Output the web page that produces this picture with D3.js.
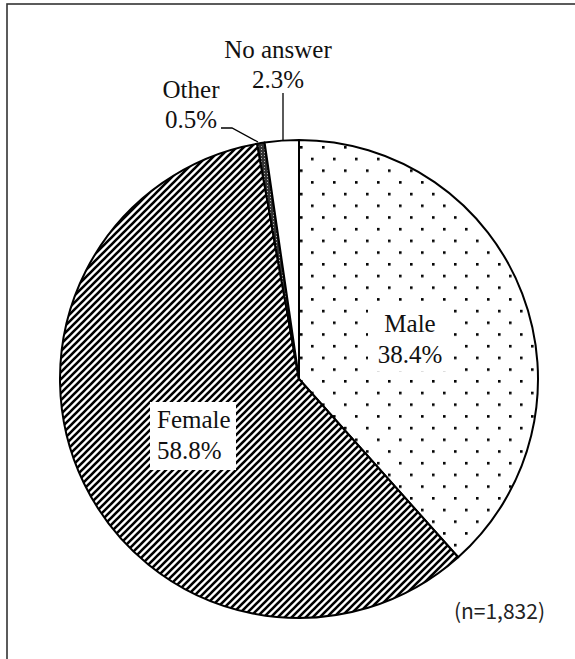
<!DOCTYPE html>
<meta charset="utf-8">
<script src="https://cdn.jsdelivr.net/npm/d3@7"></script>
<style>
  body { margin: 0; background: #fff; }
</style>
<body>
<script>

// data
var categories = ["Male", "Female", "Other", "No answer"];
var shares = [38.4, 58.8, 0.5, 2.3];
var patterns = ["dots", "hatch", "grey", "none"];
var totalN = "1,832";

var width = 575, height = 659;
var cx = 299, cy = 379, radius = 239;
var serif = "'Liberation Serif', 'Times New Roman', Times, 'DejaVu Serif', serif";

var svg = d3.select("body").append("svg")
    .attr("width", width)
    .attr("height", height);

// --- fill patterns
var defs = svg.append("defs");

var dots = defs.append("pattern")
    .attr("id", "dots")
    .attr("patternUnits", "userSpaceOnUse")
    .attr("width", 22).attr("height", 23.4);
dots.append("rect").attr("width", 22).attr("height", 23.4).attr("fill", "#fff");
dots.append("rect").attr("x", 1).attr("y", 1).attr("width", 2.6).attr("height", 2.6).attr("fill", "#000");
dots.append("rect").attr("x", 12).attr("y", 12.7).attr("width", 2.6).attr("height", 2.6).attr("fill", "#000");

var hatch = defs.append("pattern")
    .attr("id", "hatch")
    .attr("patternUnits", "userSpaceOnUse")
    .attr("width", 7).attr("height", 7);
hatch.append("rect").attr("width", 7).attr("height", 7).attr("fill", "#fff");
hatch.append("path")
    .attr("d", "M-1,8 L8,-1 M-2,2 L2,-2 M5,9 L9,5")
    .attr("stroke", "#000").attr("stroke-width", 2.6);

var grey = defs.append("pattern")
    .attr("id", "grey")
    .attr("patternUnits", "userSpaceOnUse")
    .attr("width", 3).attr("height", 3);
grey.append("rect").attr("width", 3).attr("height", 3).attr("fill", "#333");
grey.append("rect").attr("x", 1).attr("y", 1).attr("width", 1).attr("height", 1).attr("fill", "#bbb");

// outer frame (right and bottom sides run off the picture)
svg.append("rect")
    .attr("x", 7).attr("y", 4)
    .attr("width", 620).attr("height", 700)
    .attr("fill", "none")
    .attr("stroke", "#333")
    .attr("stroke-width", 1.6);

// --- pie
var pie = d3.pie().sort(null).value(function(d) { return d; });
var arc = d3.arc().innerRadius(0).outerRadius(radius);

var g = svg.append("g").attr("transform", "translate(" + cx + "," + cy + ")");

g.selectAll("path.slice")
    .data(pie(shares))
    .enter().append("path")
    .attr("class", "slice")
    .attr("d", arc)
    .attr("fill", function(d, i) { return patterns[i] == "none" ? "#fff" : "url(#" + patterns[i] + ")"; })
    .attr("stroke", "#000")
    .attr("stroke-width", 2)
    .attr("stroke-linejoin", "round");

// --- labels inside the big slices (white box behind them)
function boxLabel(x, y, lines, anchor, box) {
    svg.append("rect")
        .attr("x", box[0]).attr("y", box[1])
        .attr("width", box[2]).attr("height", box[3])
        .attr("fill", "#fff");
    var t = svg.append("text")
        .attr("x", x).attr("y", y)
        .attr("text-anchor", anchor)
        .attr("font-family", serif)
        .attr("font-size", 25)
        .attr("fill", "#111");
    lines.forEach(function(s, k) {
        t.append("tspan").attr("x", x).attr("dy", k ? 31 : 0).text(s);
    });
}

boxLabel(410, 332, [categories[0], shares[0].toFixed(1) + "%"], "middle", [368, 305, 82, 66]);
boxLabel(157, 428, [categories[1], shares[1].toFixed(1) + "%"], "start", [150, 402, 86, 68]);

// --- outside labels with leader lines
function outLabel(x, y, lines) {
    var t = svg.append("text")
        .attr("x", x).attr("y", y)
        .attr("text-anchor", "middle")
        .attr("font-family", serif)
        .attr("font-size", 25)
        .attr("fill", "#111");
    lines.forEach(function(s, k) {
        t.append("tspan").attr("x", x).attr("dy", k ? 30 : 0).text(s);
    });
}

outLabel(278, 58, [categories[3], shares[3].toFixed(1) + "%"]);
outLabel(191, 98, [categories[2], shares[2].toFixed(1) + "%"]);

var leader = d3.line();
svg.append("path")
    .attr("d", leader([[283, 93], [283, 140]]))
    .attr("fill", "none").attr("stroke", "#000").attr("stroke-width", 1.3);
svg.append("path")
    .attr("d", leader([[221, 128], [232, 128], [258, 142]]))
    .attr("fill", "none").attr("stroke", "#000").attr("stroke-width", 1.3);

// sample size
svg.append("text")
    .attr("x", 545).attr("y", 619)
    .attr("text-anchor", "end")
    .attr("font-size", 21)
    .attr("font-family", "'Noto Sans CJK JP', 'Noto Sans', sans-serif")
    .attr("fill", "#222")
    .text("(n=" + totalN + ")");

</script>
</body>
